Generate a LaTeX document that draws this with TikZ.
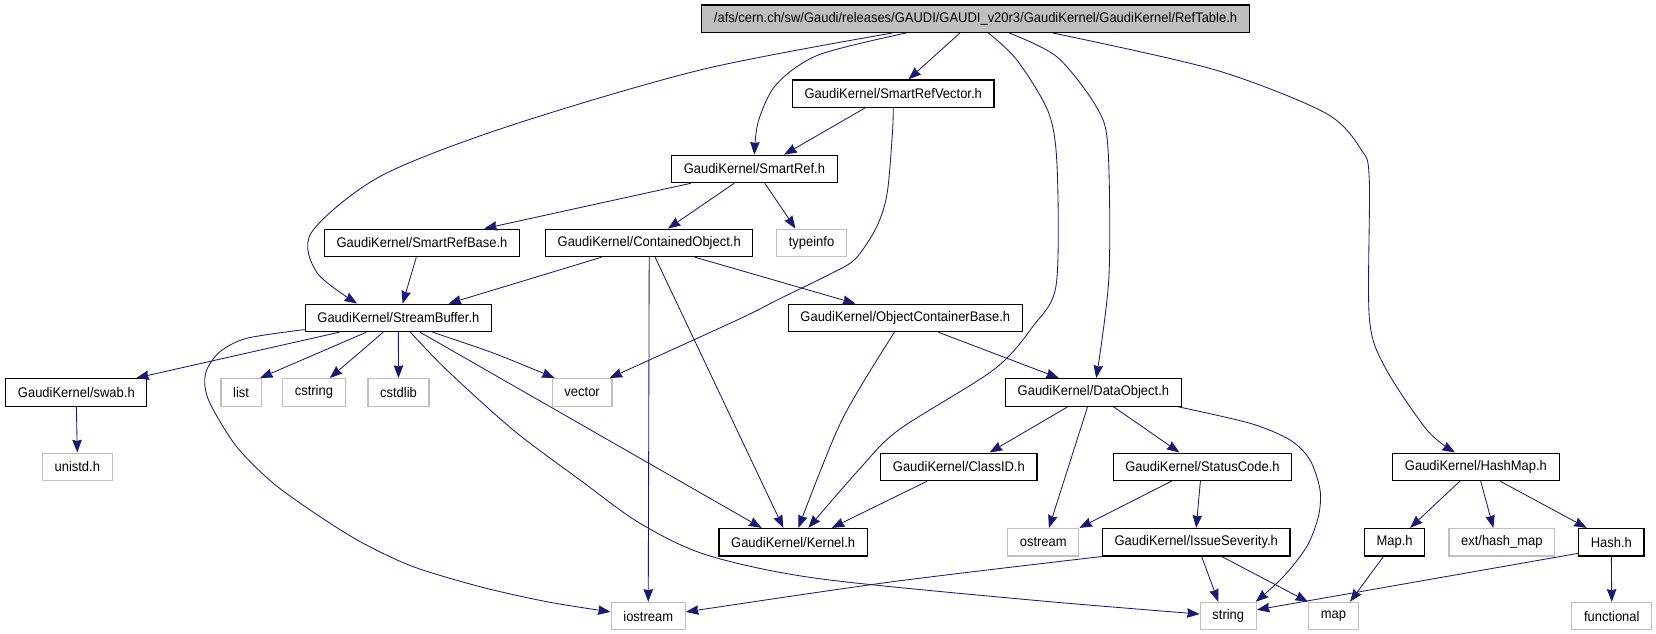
\documentclass[tikz,border=0pt]{standalone}
\usepackage{fontspec}
\setmainfont{Liberation Sans}[FakeStretch=0.93]
\usetikzlibrary{arrows.meta}
\definecolor{edgeblue}{HTML}{191970}
\definecolor{boxgray}{HTML}{BFBFBF}

\begin{document}
\begin{tikzpicture}[x=1pt,y=-1pt,>={Stealth[length=12pt,width=9pt,inset=1pt]},
  file node/.style={rectangle,draw=black,line width=1.1pt,minimum height=26pt,inner xsep=11.5pt,inner ysep=0pt,font=\fontsize{13.2}{15}\selectfont},
  std node/.style={file node,draw=boxgray},
  root node/.style={file node,fill=boxgray},
  dep/.style={->,color=edgeblue,line width=0.8pt}]

  \useasboundingbox (0,0) rectangle (1568,600);

  \node[root node] (reftable) at (923.7,17.7) {/afs/cern.ch/sw/Gaudi/releases/GAUDI/GAUDI\_v20r3/GaudiKernel/GaudiKernel/RefTable.h};
  \node[file node] (smartrefvector) at (845.8,88.7) {GaudiKernel/SmartRefVector.h};
  \node[file node] (smartref) at (714.3,160) {GaudiKernel/SmartRef.h};
  \node[file node] (smartrefbase) at (399.6,230) {GaudiKernel/SmartRefBase.h};
  \node[file node] (containedobject) at (614.7,230) {GaudiKernel/ContainedObject.h};
  \node[std node] (typeinfo) at (768.4,230) {typeinfo};
  \node[file node] (streambuffer) at (377.2,301) {GaudiKernel/StreamBuffer.h};
  \node[file node] (objectcontainerbase) at (857.2,301) {GaudiKernel/ObjectContainerBase.h};
  \node[file node] (swab) at (72.3,371.5) {GaudiKernel/swab.h};
  \node[std node] (list) at (228.3,371.5) {list};
  \node[std node] (cstring) at (297.2,371.5) {cstring};
  \node[std node] (cstdlib) at (377.3,371.5) {cstdlib};
  \node[std node] (vector) at (551.2,371.5) {vector};
  \node[file node] (dataobject) at (1035.3,371.5) {GaudiKernel/DataObject.h};
  \node[std node] (unistd) at (73.2,442) {unistd.h};
  \node[file node] (classid) at (907.9,442) {GaudiKernel/ClassID.h};
  \node[file node] (statuscode) at (1138.6,442) {GaudiKernel/StatusCode.h};
  \node[file node] (hashmap) at (1397.5,442) {GaudiKernel/HashMap.h};
  \node[file node] (kernel) at (751,513.4) {GaudiKernel/Kernel.h};
  \node[std node] (ostream) at (987.8,513.4) {ostream};
  \node[file node] (issueseverity) at (1132.6,513.4) {GaudiKernel/IssueSeverity.h};
  \node[file node] (maph) at (1320.5,513.4) {Map.h};
  \node[std node] (exthashmap) at (1422,513.4) {ext/hash\_map};
  \node[file node] (hashh) at (1525.7,513.4) {Hash.h};
  \node[std node] (iostream) at (613.8,583.4) {iostream};
  \node[std node] (string) at (1163,583.4) {string};
  \node[std node] (map) at (1262.5,583.4) {map};
  \node[std node] (functional) at (1526.1,583.4) {functional};

  \path[dep]
    ([xshift=-14.8]reftable.south) edge ([xshift=14.4]smartrefvector.north)
    ([xshift=-26.8]smartrefvector.south) edge ([xshift=28.1]smartref.north)
    ([xshift=-60.2]smartref.south) edge ([xshift=58.9]smartrefbase.north)
    ([xshift=-19.1]smartref.south) edge ([xshift=17.7]containedobject.north)
    ([xshift=9.9]smartref.south) edge ([xshift=-15.2]typeinfo.north)
    ([xshift=-5.4]smartrefbase.south) edge ([xshift=4]streambuffer.north)
    ([xshift=-45.1]containedobject.south) edge ([xshift=47.5]streambuffer.north)
    ([xshift=43.3]containedobject.south) edge ([xshift=-47.2]objectcontainerbase.north)
    (containedobject.south) edge (iostream.north)
    ([xshift=5.6]containedobject.south) edge ([xshift=-9.3]kernel.north)
    ([xshift=31.2]objectcontainerbase.south) edge ([xshift=-32.7]dataobject.north)
    ([xshift=-55.9]streambuffer.south) edge ([xshift=56.7]swab.north)
    ([xshift=-30.3]streambuffer.south) edge ([xshift=17.9]list.north)
    ([xshift=-14.3]streambuffer.south) edge ([xshift=15]cstring.north)
    (streambuffer.south) edge (cstdlib.north)
    ([xshift=20.5]streambuffer.south) edge ([xshift=-29.8]kernel.north)
    (swab.south) edge (unistd.north)
    ([xshift=-24.1]dataobject.south) edge ([xshift=29.1]classid.north)
    ([xshift=-5.5]dataobject.south) edge ([xshift=5.4]ostream.north)
    ([xshift=18.9]dataobject.south) edge ([xshift=-21.8]statuscode.north)
    ([xshift=-29.9]classid.south) edge ([xshift=36.5]kernel.north)
    ([xshift=-29.3]statuscode.south) edge (ostream.north east)
    ([xshift=-2]statuscode.south) edge (issueseverity.north)
    ([xshift=5.2]issueseverity.south) edge ([xshift=-9.4]string.north)
    ([xshift=24.2]issueseverity.south) edge ([xshift=-24]map.north)
    ([xshift=-15.1]hashmap.south) edge ([xshift=14.6]maph.north)
    ([xshift=4.5]hashmap.south) edge ([xshift=-8]exthashmap.north)
    ([xshift=22.8]hashmap.south) edge ([xshift=-23.3]hashh.north)
    ([xshift=-10.6]maph.south) edge ([xshift=15.8]map.north)
    ([yshift=3]hashh.south west) edge ([yshift=6]string.east)
    (hashh.south) edge (functional.north);

  \draw[dep] plot[smooth] coordinates {([xshift=-78.8]reftable.south) (664,66) (480,120) (360,167) (295,220) (300,258) ([xshift=-39]streambuffer.north)};
  \draw[dep] plot[smooth] coordinates {([xshift=-65.8]reftable.south) (775,52) (735,80) (718,115) (smartref.north)};
  \draw[dep] plot[smooth] coordinates {([xshift=12.2]reftable.south) (963,57) (993,107) (1001,160) (1000,270) (978,309) (941,350) (851,407) (813,445) ([xshift=14.4]kernel.north)};
  \draw[dep] plot[smooth] coordinates {([xshift=32]reftable.south) (1001,54) (1038,101) (1049,139) (1050,262) ([xshift=2.7]dataobject.north)};
  \draw[dep] plot[smooth] coordinates {([xshift=73.2]reftable.south) (1150,66) (1255,107) (1289,142) (1296.5,170) (1296.5,300) (1311,347) (1351,407) ([xshift=-19.8]hashmap.north)};
  \draw[dep] plot[smooth] coordinates {(smartrefvector.south) (845,126) (840,183) (830,215) (810,245) (787,259) (739,282.5) (698,303) ([xshift=26]vector.north)};
  \draw[dep] plot[smooth] coordinates {([xshift=32.3]streambuffer.south) (468,334.6) ([xshift=-26]vector.north)};
  \draw[dep] plot[smooth] coordinates {([yshift=2.5]streambuffer.south west) (233.6,320.3) (208.3,333) (195.7,350.3) (194.1,366.1) (200.4,385.1) (224.1,423) (258.8,457.6) (303,489.2) (344,514.5) (391.4,536.6) (454.5,555.5) (517.6,569.7) ([yshift=4]iostream.west)};
  \draw[dep] plot[smooth] coordinates {([xshift=11.4]streambuffer.south) (423,350.3) (486,407.2) (549.2,454.5) (606,495.5) (669.2,525.5) (773.3,547.6) (975,568) ([yshift=2]string.west)};
  \draw[dep] plot[smooth] coordinates {([xshift=-10.3]objectcontainerbase.south) (797,398) ([xshift=5]kernel.north)};
  \draw[dep] plot[smooth] coordinates {([xshift=-4]dataobject.south east) (1183.6,400.8) (1221.5,416.6) (1240.4,435.6) (1249.9,464) (1248.3,489.2) (1237.3,517.6) (1215.2,546) ([xshift=26]string.north)};
  \draw[dep] plot[smooth] coordinates {(issueseverity.south west) (843.6,551) ([yshift=4]iostream.east)};
\end{tikzpicture}
\end{document}
